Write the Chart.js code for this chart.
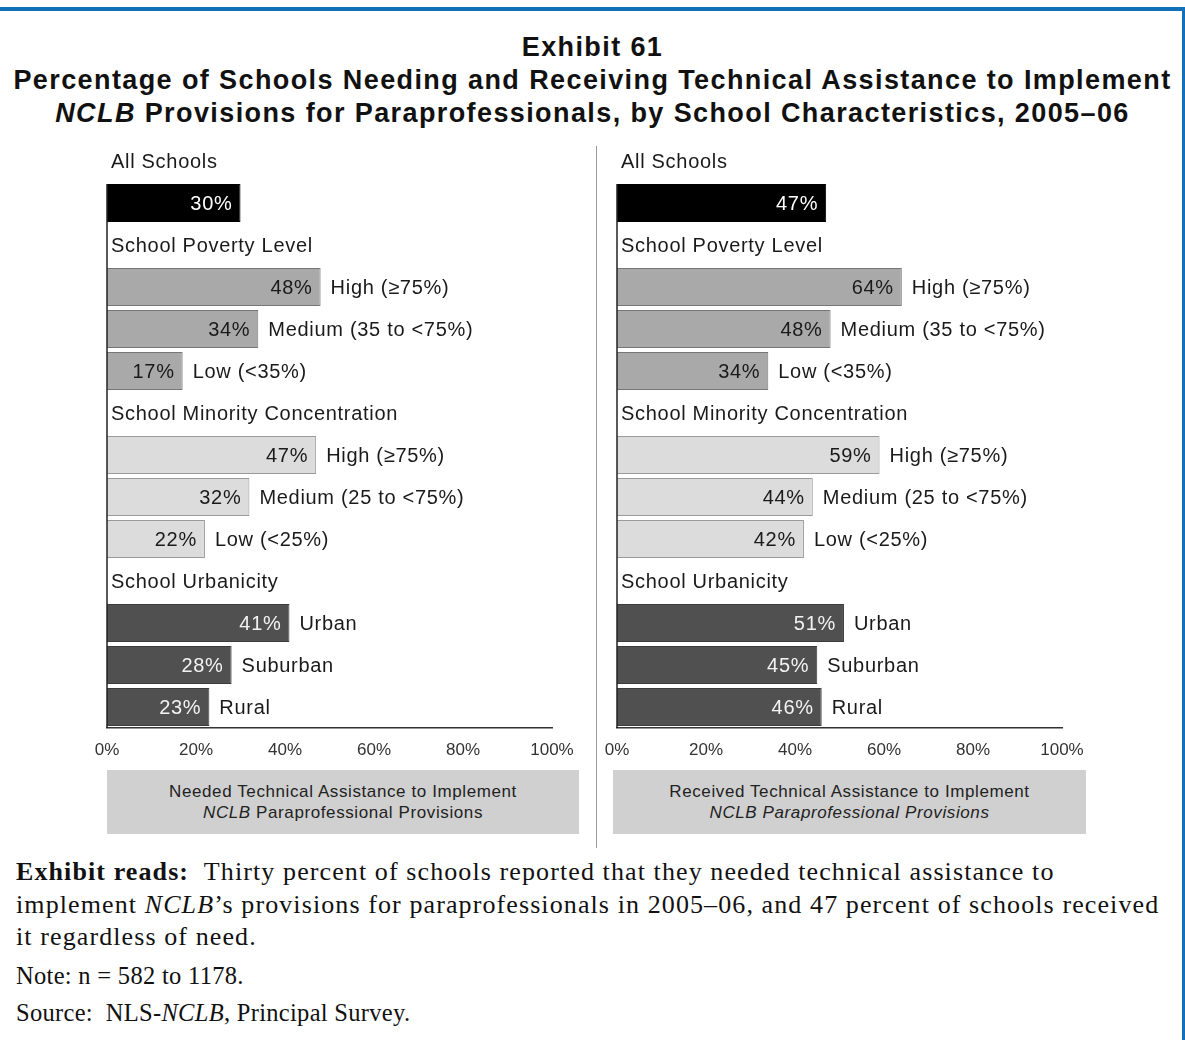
<!DOCTYPE html>
<html>
<head>
<meta charset="utf-8">
<script src="https://cdn.jsdelivr.net/npm/chart.js@4.4.1/dist/chart.umd.min.js"></script>
<style>
  body { margin: 0; background: #fff; }
  #page { position: relative; width: 1185px; height: 1040px; overflow: hidden; font-family: "Liberation Sans", Arial, sans-serif; color: #111; }
  .abs { position: absolute; }
  #topRule { left: 0; top: 7px; width: 1185px; height: 4px; background: #1071b9; }
  #rightRule { left: 1182px; top: 7px; width: 3px; height: 1033px; background: #1071b9; }
  #title { left: 0; top: 31px; width: 1185px; text-align: center; font-weight: bold; font-size: 27px; letter-spacing: 1.4px; line-height: 33px; white-space: nowrap; }
  #divider { left: 596px; top: 146px; width: 1px; height: 702px; background: #9a9a9a; }
  .caption { background: #d0d0d0; text-align: center; font-size: 17px; letter-spacing: 0.6px; line-height: 21px; color: #222; padding-top: 11px; box-sizing: border-box; height: 64px; white-space: nowrap; }
  #notes { left: 16px; top: 856px; font-family: "Liberation Serif", "Times New Roman", serif; font-size: 26px; letter-spacing: 1.1px; color: #111; white-space: nowrap; }
  #notes p { margin: 0; }
  #notes p.small { font-size: 24.5px; letter-spacing: 0.3px; line-height: 37px; }
</style>
</head>
<body>
<div id="page">
  <div id="topRule" class="abs"></div>
  <div id="rightRule" class="abs"></div>
  <div id="title" class="abs">Exhibit 61<br>Percentage of Schools Needing and Receiving Technical Assistance to Implement<br><i>NCLB</i> Provisions for Paraprofessionals, by School Characteristics, 2005–06</div>
  <div id="divider" class="abs"></div>
  <div class="abs" style="left:0;top:130px;width:596px;height:640px;"><canvas id="neededChart"></canvas></div>
  <div class="abs" style="left:596px;top:130px;width:589px;height:640px;"><canvas id="receivedChart"></canvas></div>
  <div class="abs caption" style="left:107px;top:770px;width:472px;">Needed Technical Assistance to Implement<br><i>NCLB</i> Paraprofessional Provisions</div>
  <div class="abs caption" style="left:613px;top:770px;width:473px;">Received Technical Assistance to Implement<br><i>NCLB Paraprofessional Provisions</i></div>
  <div id="notes" class="abs">
    <p style="line-height:32.5px;"><b>Exhibit reads:</b>&nbsp; Thirty percent of schools reported that they needed technical assistance to<br>implement <i>NCLB</i>’s provisions for paraprofessionals in 2005–06, and 47 percent of schools received<br>it regardless of need.</p>
    <p class="small" style="margin-top:3px;">Note: n = 582 to 1178.</p>
    <p class="small">Source:&nbsp; NLS-<i>NCLB</i>, Principal Survey.</p>
  </div>
</div>

<script>
// chart data
const groupTitles = ['All Schools', 'School Poverty Level', 'School Minority Concentration', 'School Urbanicity'];
const groupItems = [
    [''],
    ['High (≥75%)', 'Medium (35 to <75%)', 'Low (<35%)'],
    ['High (≥75%)', 'Medium (25 to <75%)', 'Low (<25%)'],
    ['Urban', 'Suburban', 'Rural']
];
const neededPct = [30, 48, 34, 17, 47, 32, 22, 41, 28, 23];
const receivedPct = [47, 64, 48, 34, 59, 44, 42, 51, 45, 46];
const xTicks = [0, 20, 40, 60, 80, 100];

// styles per group
const groupFill = ['#000000', '#a9a9a9', '#dcdcdc', '#505050'];
const groupBorder = ['#000000', '#777777', '#9a9a9a', '#3c3c3c'];
const groupValueColor = ['#ffffff', '#1a1a1a', '#1a1a1a', '#f2f2f2'];

const FONT = '"Liberation Sans", Arial, sans-serif';

// flatten groups into rows: header row (null value) then item rows
function buildRows(values) {
    const rows = [];
    let k = 0;
    groupTitles.forEach((title, g) => {
        rows.push({ header: title, value: null, group: g });
        groupItems[g].forEach(item => {
            rows.push({ header: null, label: item, value: values[k++], group: g });
        });
    });
    return rows;
}

const barLabels = {
    id: 'barLabels',
    afterDatasetsDraw(chart) {
        const ctx = chart.ctx;
        const rows = chart.config.options.rowInfo;
        const meta = chart.getDatasetMeta(0);
        const yScale = chart.scales.y;
        const area = chart.chartArea;
        ctx.save();
        ctx.font = '20px ' + FONT;
        ctx.letterSpacing = '0.7px';
        ctx.textBaseline = 'middle';

        rows.forEach((row, i) => {
            const y = yScale.getPixelForValue(i);
            if (row.header) {
                ctx.fillStyle = '#1a1a1a';
                ctx.textAlign = 'left';
                ctx.fillText(row.header, area.left + 4, y + 1);
                return;
            }
            const bar = meta.data[i];
            ctx.fillStyle = groupValueColor[row.group];
            ctx.textAlign = 'right';
            ctx.fillText(row.value + '%', bar.x - 8, y + 1);
            if (row.label) {
                ctx.fillStyle = '#1a1a1a';
                ctx.textAlign = 'left';
                ctx.fillText(row.label, bar.x + 10, y + 1);
            }
        });

        // vertical axis line from first bar down to the x axis
        const first = meta.data[1];
        ctx.strokeStyle = '#222';
        ctx.lineWidth = 1.5;
        ctx.beginPath();
        ctx.moveTo(area.left, first.y - first.height / 2);
        ctx.lineTo(area.left, area.bottom);
        ctx.stroke();
        ctx.restore();
    }
};

function makeChart(canvasId, values, padLeft, padRight) {
    const rows = buildRows(values);
    const ctx = document.getElementById(canvasId);
    return new Chart(ctx, {
        type: 'bar',
        data: {
            labels: rows.map(r => r.header || r.label),
            datasets: [{
                data: rows.map(r => r.value),
                backgroundColor: rows.map(r => groupFill[r.group]),
                borderColor: rows.map(r => groupBorder[r.group]),
                borderWidth: 1,
                borderSkipped: 'left',
                barPercentage: 0.905,
                categoryPercentage: 1
            }]
        },
        options: {
            rowInfo: rows,
            indexAxis: 'y',
            responsive: true,
            maintainAspectRatio: false,
            animation: false,
            layout: { padding: { left: padLeft, right: padRight, top: 10, bottom: 2 } },
            scales: {
                x: {
                    min: 0,
                    max: 100,
                    afterBuildTicks: scale => { scale.ticks = xTicks.map(v => ({ value: v })); },
                    afterFit: scale => { scale.height = 40; scale.paddingLeft = 0; scale.paddingRight = 0; },
                    grid: { display: false, drawTicks: false },
                    border: { display: true, color: '#333', width: 1.5 },
                    ticks: {
                        padding: 12,
                        color: '#333',
                        font: { family: FONT, size: 17 },
                        callback: v => v + '%'
                    }
                },
                y: {
                    display: false,
                    afterFit: scale => { scale.paddingTop = 0; scale.paddingBottom = 0; }
                }
            },
            plugins: {
                legend: { display: false },
                tooltip: { enabled: false }
            }
        },
        plugins: [barLabels]
    });
}

makeChart('neededChart', neededPct, 107, 44);
makeChart('receivedChart', receivedPct, 21, 123);
</script>
</body>
</html>
